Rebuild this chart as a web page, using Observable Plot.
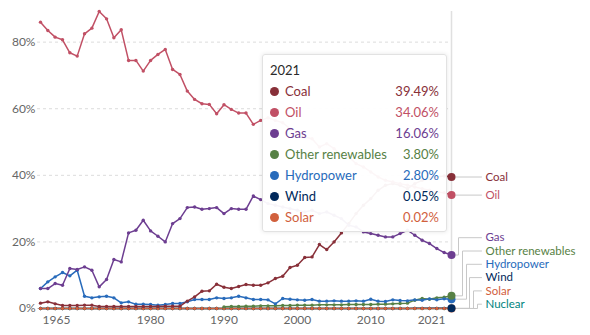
<!DOCTYPE html>
<html><head><meta charset="utf-8">
<script src="https://cdn.jsdelivr.net/npm/d3@7"></script>
<script src="https://cdn.jsdelivr.net/npm/@observablehq/plot@0.6"></script>
<style>
body{margin:0;background:#fff;font-family:Lato,"Noto Sans",sans-serif}
#wrap{position:relative;width:590px;height:335px;overflow:hidden}
#tip{position:absolute;left:262px;top:54px;width:185px;height:178px;box-sizing:border-box;background:rgba(255,255,255,0.95);border:1px solid #e2e2e2;border-radius:3px;box-shadow:0 0 4px rgba(0,0,0,0.10);font-size:13px}
#tip .row{position:absolute;left:0;right:0;height:21px;line-height:21px;white-space:nowrap}
#tip .dot{position:absolute;left:6.5px;top:6px;width:9px;height:9px;border-radius:50%}
#tip .lab{position:absolute;left:22px}
#tip .val{position:absolute;right:7px}
#tip .title{position:absolute;left:7px;top:5px;line-height:21px;color:#2a2a2a;font-size:13px}
</style>
</head><body>
<div id="wrap"><div id="chart"></div><div id="tip"></div></div>
<script>
const years = d3.range(1965, 2022);
const seriesNames = ["Coal","Oil","Gas","Other renewables","Hydropower","Wind","Solar","Nuclear"];
const seriesColors = ["#883039","#C15065","#6D3E91","#578145","#286BBB","#00295B","#D1603D","#00847E"];

const coal = [1.6,2.0,1.4,0.9,0.9,0.9,1.0,1.0,0.6,0.6,0.6,0.6,0.6,0.6,0.6,0.6,0.6,0.7,0.7,0.7,
  2.2,3.5,5.2,5.3,7.3,6.4,6.0,6.6,7.2,7.0,7.0,
  7.7,9.0,9.7,12.3,13.0,15.3,15.5,19.2,17.7,20.0,22.7,25.5,28.5,31.0,33.0,35.5,37.0,37.5,37.0,36.0,37.5,38.5,39.0,39.5,39.8,39.49];
const oil = [86.0,83.5,81.5,80.7,76.8,75.8,82.5,84.2,89.2,87.0,81.3,83.7,74.5,74.5,71.3,74.5,76.3,77.8,71.8,70.3,
  65.3,62.8,61.5,61.3,58.5,61.2,59.8,58.7,58.7,55.3,56.5,
  57.3,56.5,55.8,54.0,53.0,51.5,51.0,48.5,49.5,48.0,46.0,45.5,43.5,42.5,41.0,39.5,38.5,38.0,37.5,37.0,36.5,36.0,35.5,35.0,34.8,34.06];
const gas = [6.0,6.0,7.5,7.0,12.0,11.7,12.5,11.5,6.5,8.7,14.7,14.0,22.7,23.5,26.5,23.3,21.7,20.0,25.5,27.0,
  30.3,30.5,29.8,30.0,30.3,28.5,30.0,29.8,29.8,33.8,32.7,
  31.5,31.0,30.5,30.0,29.5,29.0,29.5,28.5,29.0,28.0,27.0,25.0,24.5,23.0,22.5,22.0,21.5,21.5,22.5,23.5,22.0,20.5,19.5,18.0,16.8,16.06];
const otherRenewables = [null,null,null,null,null,null,null,null,null,null,null,null,null,null,null,null,null,null,null,null,
  null,null,null,null,null,0.5,0.6,0.6,0.7,0.7,0.8,
  0.8,0.8,0.9,0.9,1.0,1.0,1.0,1.1,1.1,1.1,1.1,1.2,1.2,1.2,1.2,1.3,1.3,1.4,1.5,1.6,2.5,3.0,2.8,3.2,3.4,3.8];
const hydropower = [6.0,8.0,9.5,10.8,9.8,11.5,3.7,3.2,3.5,3.7,3.2,1.7,2.0,1.3,1.3,1.2,1.0,1.2,1.5,1.5,
  2.0,2.7,2.7,2.7,3.2,3.0,3.2,3.7,3.2,2.7,2.7,
  2.6,1.4,3.0,2.8,2.6,2.5,2.7,2.2,2.2,2.3,2.2,2.2,2.3,2.2,2.8,2.2,2.1,2.6,2.4,2.3,2.6,2.5,2.9,2.6,2.9,2.8];
const wind = [0,0,0,0,0,0,0,0,0,0,0,0,0,0,0,0,0,0,0,0,
  0,0,0,0,0,0,0,0,0,0,0,
  0,0,0,0,0,0,0,0,0,0,0,0,0,0,0.01,0.01,0.02,0.02,0.03,0.03,0.04,0.04,0.05,0.05,0.05,0.05];
const solar = [0,0,0,0,0,0,0,0,0,0,0,0,0,0,0,0,0,0,0,0,
  0,0,0,0,0,0,0,0,0,0,0,
  0,0,0,0,0,0,0,0,0,0,0,0,0,0,0,0,0,0,0.01,0.01,0.01,0.01,0.02,0.02,0.02,0.02];
const nuclear = [0,0,0,0,0,0,0,0,0,0,0,0,0,0,0,0,0,0,0,0,
  0,0,0,0,0,0,0,0,0,0,0,
  0,0,0,0,0,0,0,0,0,0,0,0,0,0,0,0,0,0,0,0,0,0,0,0,0,0];
const latest = {"Coal":39.49,"Oil":34.06,"Gas":16.06,"Other renewables":3.80,"Hydropower":2.80,"Wind":0.05,"Solar":0.02};
const yTicks = [0,20,40,60,80];
const xTicks = [1980,1990,2000,2010];

const valuesBy = {"Coal":coal,"Oil":oil,"Gas":gas,"Other renewables":otherRenewables,"Hydropower":hydropower,"Wind":wind,"Solar":solar,"Nuclear":nuclear};
const drawOrder = ["Nuclear","Wind","Solar","Other renewables","Hydropower","Coal","Gas","Oil"];
const dotOrder = ["Solar","Wind","Hydropower","Other renewables","Gas","Oil","Coal"];

const rows = [];
for (const s of drawOrder) valuesBy[s].forEach((v,i) => { if (v != null) rows.push({series:s, year:years[i], value:v}); });
const lastRows = dotOrder.map(s => ({series:s, year:2021, value: valuesBy[s][valuesBy[s].length-1]}));

// layout constants
const W = 590, H = 335, mL = 40, mR = 139, mT = 11, mB = 27;
const yMax = 89.2;
const px = (W - mL - mR) / (2021 - 1965);
const off = p => 2021 + p / px;
const pctPerPx = yMax / (H - mT - mB);

// right-side label placement (push apart)
const labelOrder = seriesNames.slice();
const lastVal = s => valuesBy[s][valuesBy[s].length-1];
const pos = labelOrder.map(lastVal);
const gap = 13.3 * pctPerPx, floor = 4.3 * pctPerPx;
for (let i = pos.length - 1; i >= 0; i--) {
  const below = i === pos.length - 1 ? floor - gap : pos[i+1];
  pos[i] = Math.max(pos[i], below + gap);
}
const labels = labelOrder.map((s,i) => ({series:s, value:lastVal(s), lp:pos[i]}));
const elbows = [null,null,7,11,15,18,22,26];
const leaders = [];
labels.forEach((d,k) => {
  if (elbows[k] == null) {
    leaders.push({series:d.series, x:off(3), y:d.value, k}, {series:d.series, x:off(30), y:d.lp, k});
  } else {
    const e = elbows[k];
    leaders.push({series:d.series, x:off(0), y:d.value, k},{series:d.series, x:off(e), y:d.value, k},
                 {series:d.series, x:off(e), y:d.lp, k},{series:d.series, x:off(30), y:d.lp, k});
  }
});

const chart = Plot.plot({
  width: W, height: H,
  marginLeft: mL, marginRight: mR, marginTop: mT, marginBottom: mB,
  style: {fontFamily: "Lato, sans-serif", fontSize: "12px", color: "#666", background: "white", overflow: "visible"},
  x: {domain: [1965, 2021], axis: null},
  y: {domain: [0, yMax], axis: null},
  color: {domain: seriesNames, range: seriesColors},
  marks: [
    Plot.ruleY(yTicks, {stroke: "#dcdcdc", strokeDasharray: "3,3", insetLeft: -3}),
    Plot.ruleX([2021], {stroke: "#e0e0e0", strokeWidth: 1.5}),
    Plot.line(rows, {x: "year", y: "value", z: "series", stroke: "series", strokeWidth: 1.5}),
    Plot.dot(rows, {x: "year", y: "value", fill: "series", r: 1.7}),
    Plot.line(leaders, {x: "x", y: "y", z: "k", stroke: "#c8c8c8", strokeWidth: 1, curve: "linear"}),
    Plot.dot(lastRows, {x: "year", y: "value", fill: "series", r: 4}),
    Plot.text(labels, {x: off(34), y: "lp", text: "series", fill: "series", textAnchor: "start", fontSize: 11.5}),
    Plot.text(yTicks, {x: 1965, y: d => d, text: d => d + "%", textAnchor: "end", dx: -5, fontSize: 12, fill: "#666"}),
    Plot.text(xTicks, {x: d => d, frameAnchor: "bottom", dy: 15, text: d => String(d), fontSize: 12, fill: "#666"}),
    Plot.text([1965], {x: d => d, frameAnchor: "bottom", dy: 15, dx: 2, text: d => String(d), textAnchor: "start", fontSize: 12, fill: "#666"}),
    Plot.text([2021], {x: d => d, frameAnchor: "bottom", dy: 15, dx: -6, text: d => String(d), textAnchor: "end", fontSize: 12, fill: "#666"})
  ]
});
document.getElementById("chart").appendChild(chart);

// tooltip
const tip = document.getElementById("tip");
const colorOf = s => seriesColors[seriesNames.indexOf(s)];
let html = `<div class="title">2021</div>`;
Object.keys(latest).forEach((s,i) => {
  const c = colorOf(s);
  html += `<div class="row" style="top:${25.5 + i*21}px;color:${c}"><span class="dot" style="background:${c}"></span><span class="lab">${s}</span><span class="val">${latest[s].toFixed(2)}%</span></div>`;
});
tip.innerHTML = html;
</script>
</body></html>
